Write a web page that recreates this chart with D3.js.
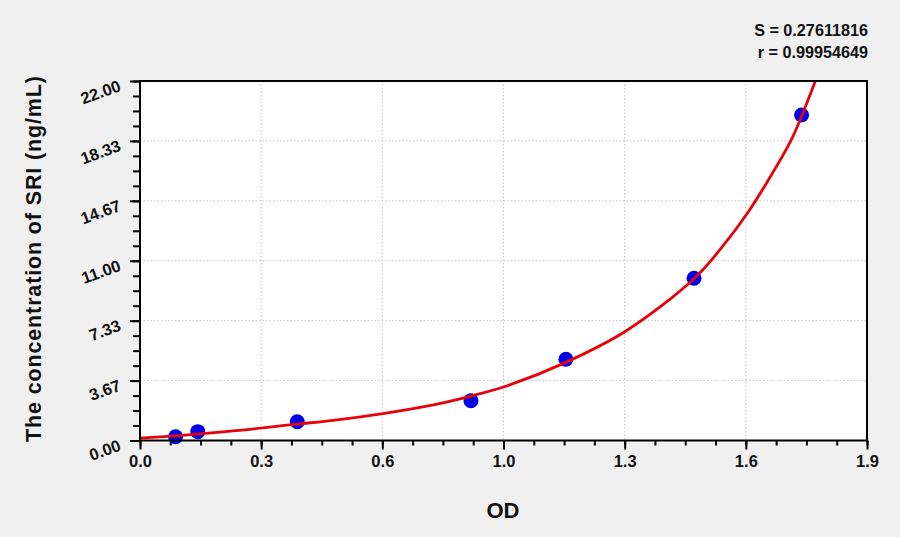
<!DOCTYPE html>
<html>
<head>
<meta charset="utf-8">
<script src="https://cdn.jsdelivr.net/npm/d3@7"></script>
<style>
  html, body { margin: 0; padding: 0; background: #f0f0f0; }
  svg { display: block; font-family: "Liberation Sans", Arial, sans-serif; }
</style>
</head>
<body>
<svg id="chart" width="900" height="537"></svg>
<script>
// ---- Data ----
const pointOD   = [0.093, 0.151, 0.411, 0.865, 1.113, 1.448, 1.729];
const pointConc = [0.23, 0.54, 1.15, 2.44, 4.97, 9.93, 19.92];

const curveOD   = [0, 0.10, 0.25, 0.41, 0.51, 0.635, 0.76, 0.865, 0.96, 1.11, 1.27, 1.45, 1.52, 1.59, 1.64, 1.70, 1.73, 1.765];
const curveConc = [0.14, 0.30, 0.60, 1.00, 1.25, 1.65, 2.15, 2.72, 3.35, 4.75, 6.70, 9.95, 11.8, 14.0, 15.85, 18.3, 19.9, 22.0];

const xTickValues = [0, 1.9/6, 2*1.9/6, 3*1.9/6, 4*1.9/6, 5*1.9/6, 1.9];
const xTickLabels = ["0.0", "0.3", "0.6", "1.0", "1.3", "1.6", "1.9"];
const yTickValues = [0, 22/6, 2*22/6, 3*22/6, 4*22/6, 5*22/6, 22];
const yTickLabels = ["0.00", "3.67", "7.33", "11.00", "14.67", "18.33", "22.00"];

const statLines = ["S = 0.27611816", "r = 0.99954649"];
const xTitle = "OD";
const yTitle = "The concentration of SRI (ng/mL)";

// ---- Layout ----
const svg = d3.select("#chart");
const L = 140, R = 867, T = 81, B = 440.5;

const x = d3.scaleLinear().domain([0, 1.9]).range([L, R]);
const y = d3.scaleLinear().domain([0, 22]).range([B, T]);

svg.append("rect").attr("x", L).attr("y", T).attr("width", R - L).attr("height", B - T)
  .attr("fill", "#ffffff");

// grid
const grid = svg.append("g").attr("stroke", "#c4c4c4").attr("stroke-width", 1)
  .attr("stroke-dasharray", "1.5,2");
grid.selectAll("line.gx").data(xTickValues.slice(1, -1)).join("line")
  .attr("x1", d => x(d)).attr("x2", d => x(d)).attr("y1", T).attr("y2", B);
grid.selectAll("line.gy").data(yTickValues.slice(1, -1)).join("line")
  .attr("y1", d => y(d)).attr("y2", d => y(d)).attr("x1", L).attr("x2", R);

// ticks
const xMinor = d3.range(0, 25).map(i => i * 1.9 / 24);
const yMinor = d3.range(0, 25).map(i => i * 22 / 24);

const xAxisMinor = d3.axisBottom(x).tickValues(xMinor).tickSize(5).tickFormat("");
const xAxisMajor = d3.axisBottom(x).tickValues(xTickValues).tickSize(9)
  .tickFormat((d, i) => xTickLabels[i]).tickPadding(6);
const yAxisMinor = d3.axisLeft(y).tickValues(yMinor).tickSize(7).tickFormat("");
const yAxisMajor = d3.axisLeft(y).tickValues(yTickValues).tickSize(10)
  .tickFormat((d, i) => yTickLabels[i]);

function styleAxis(g) {
  g.select(".domain").remove();
  g.selectAll(".tick line").attr("stroke", "#000").attr("stroke-width", 2);
}

svg.append("g").attr("transform", `translate(0,${B})`).call(xAxisMinor).call(styleAxis);
const gx = svg.append("g").attr("transform", `translate(0,${B})`).call(xAxisMajor).call(styleAxis);
gx.selectAll(".tick text").attr("font-size", 16.5).attr("font-weight", "bold")
  .attr("fill", "#111").attr("font-family", "Liberation Sans, Arial, sans-serif");

svg.append("g").attr("transform", `translate(${L},0)`).call(yAxisMinor).call(styleAxis);
const gy = svg.append("g").attr("transform", `translate(${L},0)`).call(yAxisMajor).call(styleAxis);
gy.selectAll(".tick text")
  .attr("font-size", 16.5).attr("font-weight", "bold").attr("fill", "#111")
  .attr("font-family", "Liberation Sans, Arial, sans-serif")
  .attr("x", null).attr("dy", null)
  .attr("text-anchor", "end")
  .attr("transform", "translate(-18,9) rotate(-20)");

// clip
svg.append("clipPath").attr("id", "clip").append("rect")
  .attr("x", L).attr("y", T - 1).attr("width", R - L).attr("height", B - T + 1);

const curveData = curveOD.map((d, i) => [d, curveConc[i]]);
const line = d3.line().x(d => x(d[0])).y(d => y(d[1])).curve(d3.curveCatmullRom.alpha(0.5));

// points
svg.append("g").selectAll("circle").data(pointOD.map((d, i) => [d, pointConc[i]])).join("circle")
  .attr("cx", d => x(d[0])).attr("cy", d => y(d[1])).attr("r", 7.5)
  .attr("fill", "#0000e6");

// curve (on top of points)
svg.append("path").datum(curveData).attr("d", line)
  .attr("fill", "none").attr("stroke", "#e8000b").attr("stroke-width", 2.8)
  .attr("clip-path", "url(#clip)");

// frame
svg.append("rect").attr("x", L).attr("y", T).attr("width", R - L).attr("height", B - T)
  .attr("fill", "none").attr("stroke", "#000").attr("stroke-width", 2);

// titles
svg.append("text").attr("x", 503).attr("y", 518).attr("text-anchor", "middle")
  .attr("font-size", 22).attr("font-weight", "bold").attr("fill", "#111").text(xTitle);

svg.append("text").attr("transform", "translate(41,259) rotate(-90)")
  .attr("text-anchor", "middle").attr("font-size", 21.5).attr("font-weight", "bold")
  .attr("textLength", 366).attr("lengthAdjust", "spacing")
  .attr("fill", "#111").text(yTitle);

// stats
svg.append("g").selectAll("text").data(statLines).join("text")
  .attr("x", 868).attr("y", (d, i) => 36 + i * 21.5).attr("text-anchor", "end")
  .attr("font-size", 16.2).attr("font-weight", "bold").attr("fill", "#111").text(d => d);
</script>
</body>
</html>
